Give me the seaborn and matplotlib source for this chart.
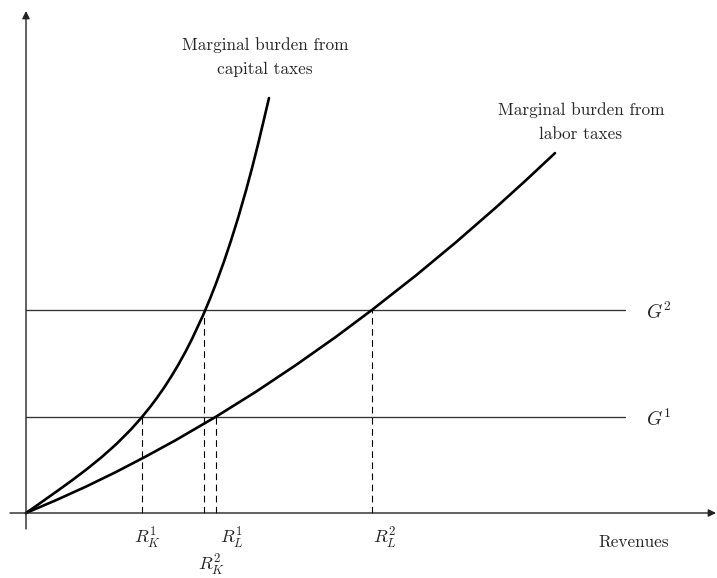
import matplotlib
matplotlib.use("Agg")
import matplotlib.pyplot as plt
import seaborn as sns
import pandas as pd

# curves (revenues, marginal burden)
capital_x = [0, 15, 30, 45, 60, 75, 90, 105, 116, 124, 130, 138, 145, 152, 160, 166, 177,
             184, 190, 198, 205, 212, 220, 226, 232, 238, 243]
capital_y = [0, 10.5, 21.1, 31.9, 43.2, 55.3, 68.6, 83.6, 96.0, 105.9, 113.8, 125.2, 136.1,
             147.7, 162.2, 174.0, 197.6, 214.2, 229.5, 251.5, 272.4, 294.8, 322.5, 344.8,
             368.6, 393.8, 415.0]
labor_x = [0, 30, 60, 90, 120, 150, 190, 230, 270, 310, 346, 390, 430, 470, 500, 529]
labor_y = [0, 12.8, 26.4, 41.0, 56.6, 73.0, 96.3, 121.3, 148.0, 176.2, 203.1, 237.6,
           270.8, 305.6, 332.8, 359.9]

# spending levels and the revenues where each curve meets them
g_levels = [96, 203]
g_labels = ["$G^1$", "$G^2$"]
r_capital = [116, 178]
r_labor = [190, 346]

sns.set_style("white")
plt.rcParams["font.family"] = "serif"
plt.rcParams["font.serif"] = ["cmr10"]
plt.rcParams["mathtext.fontset"] = "cm"
plt.rcParams["axes.formatter.use_mathtext"] = True

df = pd.concat([
    pd.DataFrame({"revenue": capital_x, "burden": capital_y, "tax": "capital"}),
    pd.DataFrame({"revenue": labor_x, "burden": labor_y, "tax": "labor"}),
])

fig = plt.figure(figsize=(7.17, 5.78), dpi=100)
ax = fig.add_axes([0, 0, 1, 1])
ax.set_xlim(-26, 691)
ax.set_ylim(-65, 513)
ax.axis("off")

# axes with arrow heads
arrow = dict(arrowstyle="-|>", lw=1.0, color="#222222", mutation_scale=11, shrinkA=0, shrinkB=0)
ax.annotate("", xy=(690, 0), xytext=(-16, 0), arrowprops=arrow)
ax.annotate("", xy=(0, 502), xytext=(0, -16), arrowprops=arrow)

# spending lines
for g, lab in zip(g_levels, g_labels):
    ax.plot([0, 599], [g, g], color="#333333", lw=0.95)
    ax.text(620, g - 2, lab, fontsize=14, ha="left", va="center")

# dashed drop lines
for rk, rl, g in zip(r_capital, r_labor, g_levels):
    ax.plot([rk, rk], [0, g], color="black", lw=0.8, ls=(0, (6, 4)))
    ax.plot([rl, rl], [0, g], color="black", lw=0.8, ls=(0, (6, 4)))

sns.lineplot(data=df, x="revenue", y="burden", units="tax", estimator=None,
             color="black", lw=1.9, ax=ax, legend=False)

ax.text(239, 456, "Marginal burden from\ncapital taxes", fontsize=12.4, ha="center",
        va="center", linespacing=1.7)
ax.text(555, 391, "Marginal burden from\nlabor taxes", fontsize=12.4, ha="center",
        va="center", linespacing=1.7)

ax.text(121, -25, "$R_K^1$", fontsize=13, ha="center", va="center")
ax.text(185, -52, "$R_K^2$", fontsize=13, ha="center", va="center")
ax.text(206, -25, "$R_L^1$", fontsize=13, ha="center", va="center")
ax.text(359, -25, "$R_L^2$", fontsize=13, ha="center", va="center")
ax.text(608, -29, "Revenues", fontsize=12.4, ha="center", va="center")

fig.savefig("out.png", dpi=100)
